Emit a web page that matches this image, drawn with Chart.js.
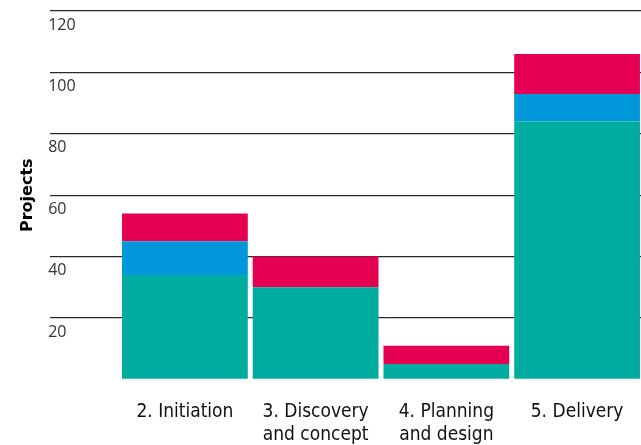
<!DOCTYPE html>
<html>
<head>
<meta charset="utf-8">
<script src="https://cdn.jsdelivr.net/npm/chart.js@4.4.0/dist/chart.umd.min.js"></script>
<style>
  html, body { margin: 0; padding: 0; background: #fff; }
  #wrap { width: 641px; height: 445px; position: relative; }
</style>
</head>
<body>
<div id="wrap"><canvas id="c"></canvas></div>
<script>
const categories = [["2. Initiation"], ["3. Discovery", "and concept"], ["4. Planning", "and design"], ["5. Delivery"]];
const seriesTeal = [34, 30, 5, 84];
const seriesBlue = [11, 0, 0, 9];
const seriesRed  = [9, 10, 6, 13];
const yTicks = [20, 40, 60, 80, 100, 120];

const toPoints = arr => arr.map((v, i) => ({ x: i, y: v }));

new Chart(document.getElementById('c'), {
  type: 'bar',
  data: {
    datasets: [
      { label: 'A', data: toPoints(seriesTeal), backgroundColor: '#00ab9f' },
      { label: 'B', data: toPoints(seriesBlue), backgroundColor: '#0098da' },
      { label: 'C', data: toPoints(seriesRed),  backgroundColor: '#e50051' }
    ]
  },
  options: {
    responsive: true,
    maintainAspectRatio: false,
    animation: false,
    layout: { padding: { top: 11, right: 0, left: 0, bottom: -14 } },
    plugins: { legend: { display: false }, tooltip: { enabled: false } },
    datasets: { bar: { categoryPercentage: 1, barPercentage: 0.962, borderWidth: 0 } },
    scales: {
      x: {
        type: 'linear',
        stacked: true,
        offset: false,
        min: -1.0305,
        max: 3.489,
        grid: { display: false, offset: false },
        border: { display: false },
        ticks: {
          stepSize: 1,
          includeBounds: false,
          autoSkip: false,
          maxRotation: 0,
          padding: 13,
          color: '#111',
          font: { family: "'Liberation Sans Narrow', 'DejaVu Sans Condensed', sans-serif", size: 19, lineHeight: 1.2 },
          callback: v => (Number.isInteger(v) && v >= 0 && v < categories.length) ? categories[v] : ''
        }
      },
      y: {
        stacked: true,
        min: 0,
        max: 120,
        grid: {
          drawTicks: false,
          color: ctx => ctx.tick && ctx.tick.value === 0 ? 'rgba(0,0,0,0)' : '#2a2a2a',
          lineWidth: 1.3
        },
        border: { display: false },
        afterBuildTicks: axis => { axis.ticks = [0].concat(yTicks).map(v => ({ value: v })); },
        ticks: {
          mirror: true,
          padding: -2,
          labelOffset: 14,
          color: '#333',
          font: { family: "'Open Sans', sans-serif", size: 16 },
          callback: v => v === 0 ? '' : String(v)
        },
        title: {
          display: true,
          text: 'Projects',
          color: '#000',
          font: { family: "'DejaVu Sans', sans-serif", size: 16, weight: 'bold' },
          padding: { top: 18, bottom: 17 }
        }
      }
    }
  }
});
</script>
</body>
</html>
